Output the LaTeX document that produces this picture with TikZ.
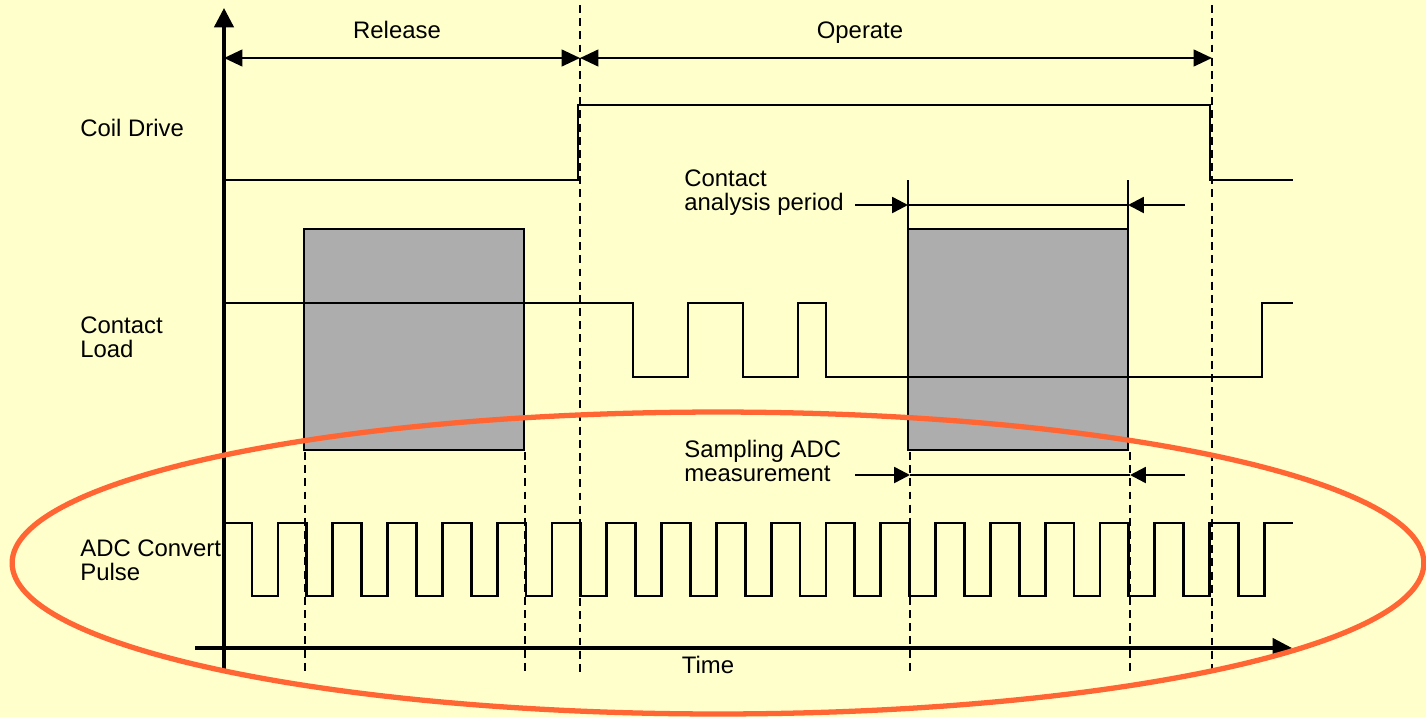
\documentclass[tikz,border=0pt]{standalone}
\usepackage{fontspec}
\setmainfont{Liberation Sans}
\usetikzlibrary{arrows.meta}
\definecolor{bgyellow}{HTML}{FFFFCC}
\definecolor{ringorange}{HTML}{FF6633}
\definecolor{boxgray}{HTML}{ADADAD}
\tikzset{
  sig/.style={line width=1.5pt},
  axis/.style={line width=1.9pt, -{Triangle[length=11pt,width=11pt]}},
  guide/.style={line width=1.6pt, dash pattern=on 4.5pt off 3pt},
  span/.style={line width=1.4pt, {Triangle[length=10.5pt,width=9.5pt]}-{Triangle[length=10.5pt,width=9.5pt]}},
  pointer/.style={line width=1.4pt, -{Triangle[length=9pt,width=9pt]}},
  hairline/.style={line width=0.8pt},
  window/.style={draw, line width=1pt, fill=boxgray},
  ring/.style={draw=ringorange, line width=3pt},
  lbl/.style={font=\fontsize{13.6pt}{13.6pt}\selectfont, inner sep=0pt, align=left},
}
\begin{document}
\begin{tikzpicture}[x=0.02cm, y=-0.02cm]
\fill[bgyellow] (0,0) rectangle (1426,717);
\useasboundingbox (0,0) rectangle (1426,717);

\draw[window] (304,229) rectangle (524,450);
\draw[window] (908,229) rectangle (1128,450);

\coordinate (yfoot) at (224,672);
\coordinate (ytip) at (224,8);
\coordinate (tstart) at (195,648);
\coordinate (tend) at (1292,648);
\draw[axis] (yfoot) -- (ytip);
\draw[axis] (tstart) -- (tend);

\foreach \x in {580,1212} \draw[guide] (\x,5) -- (\x,672);
\foreach \x in {305,525,910,1130} \draw[guide] (\x,452) -- (\x,672);

\coordinate (relL) at (224,58);
\coordinate (relR) at (580,58);
\coordinate (opR) at (1212,58);
\draw[span] (relL) -- (relR);
\draw[span] (relR) -- (opR);

\node[lbl] (release) at (397,30) {Release};
\node[lbl, anchor=base] (operate) at (860,38) {Operate};
\node[lbl, anchor=west] (coil) at (80,128) {Coil Drive};
\node[lbl, anchor=west] (contact) at (80,337) {Contact\\Load};
\node[lbl, anchor=west] (adc) at (80,560) {ADC Convert\\Pulse};
\node[lbl] (time) at (708,665) {Time};
\node[lbl, anchor=west] (analysis) at (684,193) {Contact\\analysis period};
\node[lbl, anchor=west] (sampling) at (684,461) {Sampling ADC\\measurement};

\draw[sig] (224,180) -- (578,180) -- (578,105) -- (1210,105) -- (1210,180) -- (1293,180);
\draw[sig] (224,303) -- (633,303) -- (633,377) -- (688,377) -- (688,303) -- (743,303)
  -- (743,377) -- (798,377) -- (798,303) -- (826,303) -- (826,377) -- (1262,377)
  -- (1262,303) -- (1293,303);
\draw[sig] (224,523) foreach \k in {0,...,18} {
  -- ({252+54.8*\k},523) -- ({252+54.8*\k},596) -- ({278+54.8*\k},596) -- ({278+54.8*\k},523)
  } -- (1293,523);

\coordinate (caL) at (908,205);
\coordinate (caR) at (1128,205);
\coordinate (caLout) at (855,205);
\coordinate (caRout) at (1185,205);
\draw[hairline] (908,180) -- (908,229);
\draw[hairline] (1128,180) -- (1128,229);
\draw[hairline] (caL) -- (caR);
\draw[pointer] (caLout) -- (caL);
\draw[pointer] (caRout) -- (caR);

\coordinate (smL) at (910,475);
\coordinate (smR) at (1130,475);
\coordinate (smLout) at (855,475);
\coordinate (smRout) at (1185,475);
\draw[hairline] (smL) -- (smR);
\draw[pointer] (smLout) -- (smL);
\draw[pointer] (smRout) -- (smR);

\draw[ring] (718,563) ellipse [x radius=14.12cm, y radius=3.02cm];
\end{tikzpicture}
\end{document}
